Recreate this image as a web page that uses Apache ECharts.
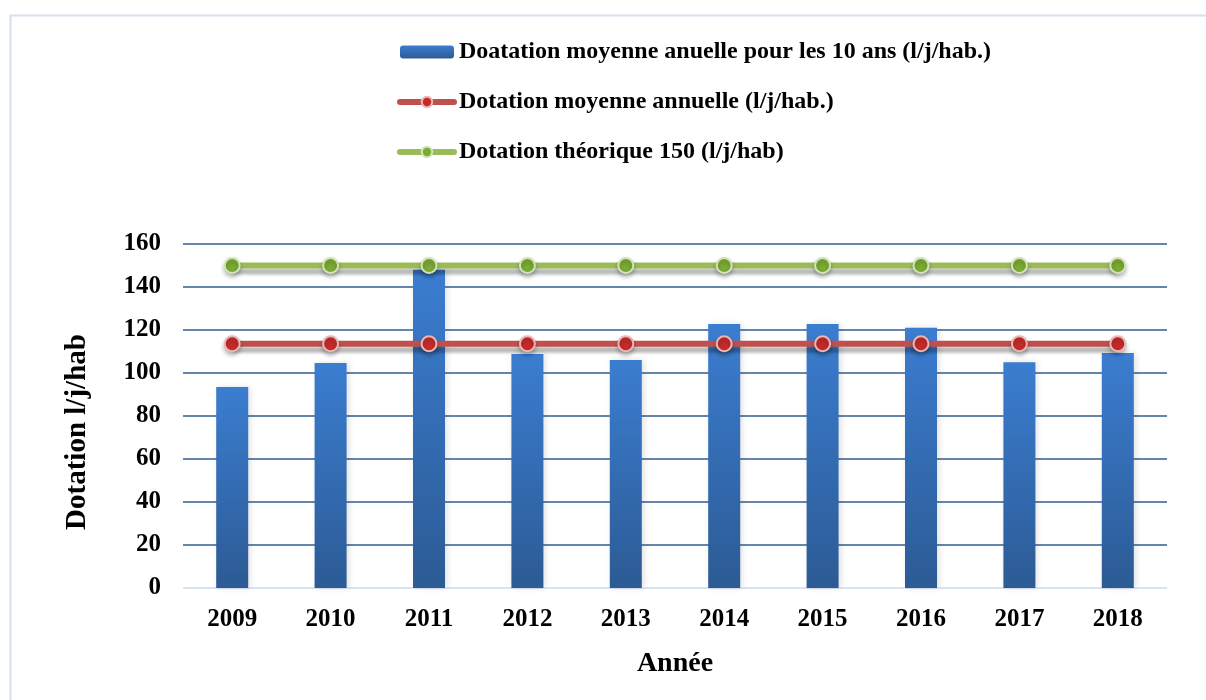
<!DOCTYPE html>
<html>
<head>
<meta charset="utf-8">
<script src="https://cdn.jsdelivr.net/npm/echarts@6/dist/echarts.min.js"></script>
<style>html,body{margin:0;padding:0;background:#fff}#c{width:1206px;height:700px}</style>
</head>
<body>
<div id="c"></div>
<script>
const years = ['2009','2010','2011','2012','2013','2014','2015','2016','2017','2018'];
const barValues = [93.5, 104.7, 148, 108.8, 106, 122.8, 122.8, 121, 105, 109.3];
const annualValues = [113.6, 113.6, 113.6, 113.6, 113.6, 113.6, 113.6, 113.6, 113.6, 113.6];
const theoreticalValues = [150, 150, 150, 150, 150, 150, 150, 150, 150, 150];
const seriesNames = [
  'Doatation moyenne anuelle pour les 10 ans (l/j/hab.)',
  'Dotation moyenne annuelle (l/j/hab.)',
  'Dotation théorique 150 (l/j/hab)'
];
const FONT = '"Liberation Serif", "Times New Roman", serif';

const chart = echarts.init(document.getElementById('c'));
chart.setOption({
  animation: false,
  backgroundColor: '#fff',
  graphic: [{
    type: 'rect', left: 8, top: 13,
    shape: { width: 1220, height: 720 },
    style: { fill: 'none', stroke: '#d6e0f0', lineWidth: 2 },
    silent: true
  }],
  legend: {
    orient: 'vertical',
    left: 392, top: 35,
    itemGap: 26,
    itemWidth: 54, itemHeight: 13,
    lineStyle: { width: 6, cap: 'round' },
    textStyle: { fontFamily: FONT, fontWeight: 'bold', fontSize: 24, color: '#000' },
    data: seriesNames
  },
  grid: { left: 183, right: 39, top: 244, bottom: 112 },
  xAxis: {
    type: 'category',
    data: years,
    name: 'Année',
    nameLocation: 'middle',
    nameGap: 62,
    nameTextStyle: { fontFamily: FONT, fontWeight: 'bold', fontSize: 28, color: '#000' },
    axisLine: { show: false },
    axisTick: { show: false },
    axisLabel: { fontFamily: FONT, fontWeight: 'bold', fontSize: 25, color: '#000', margin: 19 }
  },
  yAxis: {
    type: 'value',
    min: 0, max: 160, interval: 20,
    name: 'Dotation l/j/hab',
    nameLocation: 'middle',
    nameGap: 91,
    nameTextStyle: { fontFamily: FONT, fontWeight: 'bold', fontSize: 29, color: '#000', padding: [0, 32, 0, 0] },
    axisLine: { show: false },
    axisTick: { show: false },
    axisLabel: { fontFamily: FONT, fontWeight: 'bold', fontSize: 25, color: '#000', margin: 22 },
    splitLine: { lineStyle: { width: 1.5, color: ['#cddbee','#335c8f','#335c8f','#335c8f','#335c8f','#335c8f','#335c8f','#335c8f','#335c8f'] } }
  },
  series: [
    {
      name: seriesNames[0],
      type: 'bar',
      data: barValues,
      barWidth: 32,
      itemStyle: {
        color: new echarts.graphic.LinearGradient(0, 0, 0, 1, [
          { offset: 0, color: '#3b7dd0' },
          { offset: 1, color: '#2c5b95' }
        ]),
        shadowColor: 'rgba(0,0,0,0.12)', shadowBlur: 6, shadowOffsetX: 2, shadowOffsetY: 0
      }
    },
    {
      name: seriesNames[1],
      type: 'line',
      data: annualValues,
      symbol: 'circle', symbolSize: 15,
      lineStyle: { color: '#c0504d', width: 6, shadowColor: 'rgba(0,0,0,0.28)', shadowBlur: 3, shadowOffsetY: 6 },
      itemStyle: { color: '#c42b2b', borderColor: '#eab7b4', borderWidth: 2, shadowColor: 'rgba(0,0,0,0.25)', shadowBlur: 4, shadowOffsetY: 3 },
      z: 3
    },
    {
      name: seriesNames[2],
      type: 'line',
      data: theoreticalValues,
      symbol: 'circle', symbolSize: 15,
      lineStyle: { color: '#9bbb59', width: 6, shadowColor: 'rgba(0,0,0,0.28)', shadowBlur: 3, shadowOffsetY: 6 },
      itemStyle: { color: '#7aab34', borderColor: '#d2e3b5', borderWidth: 2, shadowColor: 'rgba(0,0,0,0.25)', shadowBlur: 4, shadowOffsetY: 3 },
      z: 3
    }
  ]
});
</script>
</body>
</html>
